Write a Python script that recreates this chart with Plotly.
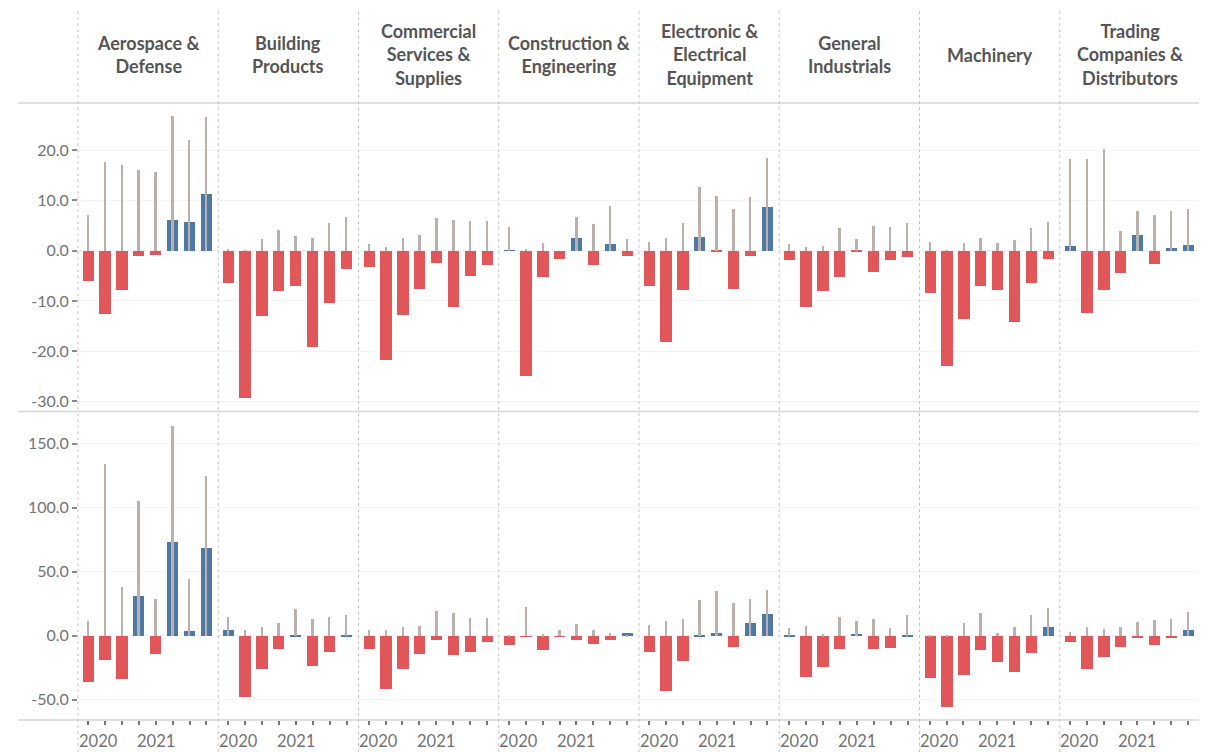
import plotly.graph_objects as go
from plotly.subplots import make_subplots

industries = ["Aerospace &<br>Defense", "Building<br>Products", "Commercial<br>Services &<br>Supplies",
              "Construction &<br>Engineering", "Electronic &<br>Electrical<br>Equipment",
              "General<br>Industrials", "Machinery", "Trading<br>Companies &<br>Distributors"]
quarters = ["2020 Q1", "2020 Q2", "2020 Q3", "2020 Q4", "2021 Q1", "2021 Q2", "2021 Q3", "2021 Q4"]
year_labels = {"2020 Q1": "2020", "2021 Q1": "2021"}

# top row: coloured bars and thin grey bars
top_bar = [
    [-6.0, -12.5, -7.9, -1.1, -0.9, 6.1, 5.7, 11.3],
    [-6.5, -29.4, -12.9, -8.1, -7.0, -19.2, -10.4, -3.6],
    [-3.3, -21.7, -12.7, -7.7, -2.4, -11.3, -5.1, -2.9],
    [0.1, -24.9, -5.3, -1.7, 2.5, -2.9, 1.4, -1.1],
    [-7.0, -18.1, -7.9, 2.7, -0.2, -7.7, -1.1, 8.7],
    [-1.9, -11.2, -8.1, -5.3, -0.1, -4.2, -1.9, -1.3],
    [-8.5, -23.0, -13.5, -7.1, -7.9, -14.2, -6.5, -1.7],
    [0.9, -12.4, -7.9, -4.4, 3.1, -2.7, 0.5, 1.1],
]
top_line = [
    [7.1, 17.7, 17.1, 16.1, 15.7, 26.8, 22.0, 26.6],
    [0.4, 0.1, 2.3, 4.1, 3.0, 2.6, 5.5, 6.8],
    [1.3, 0.7, 2.5, 3.1, 6.6, 6.2, 5.9, 5.9],
    [4.7, 0.2, 1.6, 0.0, 6.8, 5.3, 8.9, 2.3],
    [1.8, 2.5, 5.5, 12.7, 10.9, 8.4, 10.7, 18.4],
    [1.3, 0.8, 0.9, 4.5, 2.3, 5.0, 4.7, 5.5],
    [1.8, 0.1, 1.6, 2.5, 1.6, 2.1, 4.5, 5.7],
    [18.3, 18.3, 20.3, 3.9, 8.0, 7.1, 8.0, 8.3],
]
# bottom row
bot_bar = [
    [-35.9, -19.0, -33.3, 31.3, -13.8, 73.7, 3.9, 68.5],
    [4.4, -47.4, -26.0, -10.4, 0.5, -23.7, -12.2, 0.3],
    [-10.4, -41.1, -26.0, -13.8, -3.1, -14.8, -12.2, -4.4],
    [-7.0, -0.5, -11.2, -0.5, -3.1, -6.0, -3.1, 2.6],
    [-12.2, -43.2, -19.3, 0.5, 2.6, -8.9, 9.9, 16.9],
    [0.5, -31.8, -24.5, -10.4, 1.6, -10.4, -9.6, 0.3],
    [-32.6, -55.5, -30.7, -11.2, -20.1, -28.1, -13.0, 7.0],
    [-4.9, -25.5, -16.7, -8.6, -1.6, -7.0, -0.8, 4.4],
]
bot_line = [
    [11.7, 134.0, 38.3, 105.5, 29.2, 164.0, 44.3, 125.0],
    [15.1, 4.4, 7.0, 9.9, 21.4, 13.5, 15.1, 16.1],
    [4.4, 4.4, 7.0, 7.8, 19.5, 18.0, 14.1, 14.1],
    [0.5, 22.9, 1.3, 4.4, 9.1, 4.4, 2.1, 0.3],
    [8.9, 11.7, 13.3, 28.1, 35.2, 25.8, 29.2, 36.2],
    [6.5, 7.8, 1.3, 14.8, 11.5, 13.3, 6.0, 16.1],
    [0.3, 0.3, 10.4, 18.0, 2.6, 7.0, 16.1, 22.1],
    [3.4, 7.0, 5.2, 7.0, 10.9, 12.2, 13.3, 18.8],
]
top_ticks = [-30, -20, -10, 0, 10, 20]
bot_ticks = [-50, 0, 50, 100, 150]

BLUE, RED, GREY = "#4E79A7", "#E15759", "#BAB0AC"
FONT = "Lato"
TICK_GREY = "#737373"

# page body has an 8px margin, so the figure is 8px smaller than the window
W, H = 1199, 744

fig = make_subplots(rows=2, cols=8, shared_yaxes=True, horizontal_spacing=0, vertical_spacing=0)

for row, bars, lines in [(1, top_bar, top_line), (2, bot_bar, bot_line)]:
    for c in range(8):
        vals = bars[c]
        fig.add_trace(go.Bar(x=quarters, y=vals, width=0.66,
                             marker=dict(color=[BLUE if v >= 0 else RED for v in vals], line_width=0),
                             showlegend=False), row=row, col=c + 1)
        fig.add_trace(go.Bar(x=quarters, y=lines[c], width=0.11,
                             marker=dict(color=GREY, line_width=0),
                             showlegend=False), row=row, col=c + 1)

fig.update_xaxes(type="category", categoryorder="array", categoryarray=quarters,
                 range=[-0.6, 7.7], showgrid=False, zeroline=False, showline=False,
                 showticklabels=False, fixedrange=True)
fig.update_xaxes(ticks="outside", ticklen=4, tickwidth=1.5, tickcolor="#777777", tickvals=quarters, row=2)

fig.update_yaxes(showgrid=True, gridcolor="#f3f3f3", zeroline=False, showline=False, ticks="",
                 tickfont=dict(family=FONT, size=16, color=TICK_GREY))
fig.update_yaxes(range=[-32, 29.4], tickvals=top_ticks, ticktext=["%.1f" % t for t in top_ticks], row=1)
fig.update_yaxes(range=[-66, 175], tickvals=bot_ticks, ticktext=["%.1f" % t for t in bot_ticks], row=2)
fig.update_yaxes(ticks="outside", ticklen=5, tickwidth=1.5, tickcolor="#8a8a8a", col=1)

shapes = []
# zero lines
for yref in ["y", "y9"]:
    shapes.append(dict(type="line", xref="paper", yref=yref, x0=0, x1=1, y0=0, y1=0,
                       line=dict(color="#cfcfcf", width=1, dash="dot"), layer="below"))
# row separators
for yy in [1, 0.5, 0]:
    shapes.append(dict(type="line", xref="paper", yref="paper", x0=-0.0535, x1=1, y0=yy, y1=yy,
                       line=dict(color="#d6d6d6", width=1.5)))
# column separators
for k in range(9):
    shapes.append(dict(type="line", xref="paper", yref="paper", x0=k / 8, x1=k / 8, y0=-0.052, y1=1.154,
                       line=dict(color="#c4c4c4", width=1, dash="dot")))

annotations = []
for c, name in enumerate(industries):
    annotations.append(dict(text="<b>" + name + "</b>", x=(c + 0.5) / 8, y=1.0778, xref="paper", yref="paper",
                            showarrow=False, yanchor="middle", xanchor="center",
                            font=dict(family=FONT, size=18, color="#555555")))
    xref = "x%d" % (9 + c)
    for q, lab in year_labels.items():
        annotations.append(dict(text=lab, x=q, xref=xref, y=0, yref="paper", yanchor="top",
                                yshift=-9, xshift=10 if q == quarters[0] else 0, showarrow=False,
                                font=dict(family=FONT, size=16.5, color=TICK_GREY)))

fig.update_layout(width=W, height=H, barmode="overlay", bargap=0,
                  margin=dict(l=70, r=7, t=95, b=32),
                  paper_bgcolor="white", plot_bgcolor="white",
                  font=dict(family=FONT), shapes=shapes, annotations=annotations)

fig.write_html("out.html")
